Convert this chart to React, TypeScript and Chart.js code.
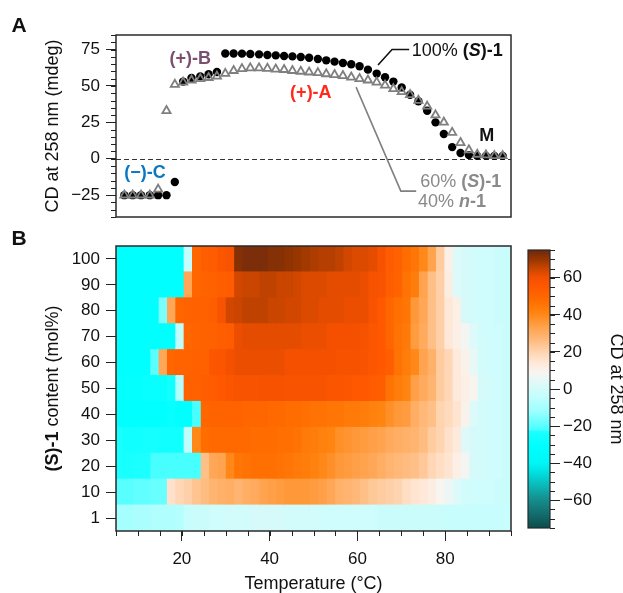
import React, { useEffect, useRef } from "react";
import { Chart, registerables } from "chart.js";

Chart.register(...registerables);

const FONT = "'Liberation Sans', Arial, Helvetica, sans-serif";
Chart.defaults.font.family = FONT;
Chart.defaults.color = "#111";

// ---------- DATA ----------
// heat-map column edges (°C)
const temperatureEdges = [
  5.0, 6.9, 8.8, 10.7, 12.7, 14.6, 16.5, 18.4, 20.3, 22.2, 24.2, 26.1, 28.0, 29.9, 31.8, 33.7,
  35.6, 37.6, 39.5, 41.4, 43.3, 45.2, 47.1, 49.0, 51.0, 52.9, 54.8, 56.7, 58.6, 60.5, 62.4, 64.4,
  66.3, 68.2, 70.1, 72.0, 73.9, 75.9, 77.8, 79.7, 81.6, 83.5, 85.4, 87.3, 89.3, 91.2, 93.1, 95.0,
];

// measured temperatures (°C) of panel A
const scatterTemperatures = [
  6.9, 8.8, 10.7, 12.7, 14.6, 16.5, 18.4, 20.3, 22.2, 24.2, 26.1, 28.0, 29.9, 31.8, 33.7, 35.6,
  37.6, 39.5, 41.4, 43.3, 45.2, 47.1, 49.0, 51.0, 52.9, 54.8, 56.7, 58.6, 60.5, 62.4, 64.4, 66.3,
  68.2, 70.1, 72.0, 73.9, 75.9, 77.8, 79.7, 81.6, 83.5, 85.4, 87.3, 89.3, 91.2, 93.1,
];

// 100% (S)-1, CD at 258 nm (mdeg)
const cdPureS = [
  -25, -25, -25, -25, -25, -25, -16, 53, 55.5, 56.6, 58, 59.6, 72.3, 72.3, 72.2, 72,
  71.7, 71.3, 71, 70.6, 70.3, 69.9, 69.4, 68.5, 67.6, 66.7, 65.8, 64.9, 63.5, 61.2, 58.5, 56,
  53, 49, 44, 39.5, 33, 25, 17, 8, 4, 2.5, 2, 2, 2, 2,
];

// 60% (S)-1 / 40% n-1
const cdMixed = [
  -25, -25, -25, -25, -21, 33, 51, 52.5, 54, 55, 55.7, 56.6, 58.5, 60.5, 61.8, 62.3,
  62.3, 62, 61.5, 61.2, 60.5, 60, 59.5, 59, 58.3, 57.7, 57, 56, 55, 54, 52.5, 50.5,
  48, 46, 44, 40, 36, 30, 25, 18, 11, 6, 3, 2.5, 2, 2,
];

// panel A y-axis tick values
const cdTicksA = [-25, 0, 25, 50, 75];

// panel B rows, (S)-1 content (mol%)
const contentLabels = ["100", "90", "80", "70", "60", "50", "40", "30", "20", "10", "1"];

const heat100 = [
  -30, -30, -30, -30, -30, -30, -30, -30, -4, 50, 53, 54, 57, 58,
  72, 73, 73, 73, 72, 72, 71, 70, 69, 68, 67, 67, 66, 64, 63, 63, 62, 59,
  54, 52, 48, 45, 40, 33, 22, 11, 2, 1, 0, -1, -1, -2, -2,
];
const heat90 = [
  -30, -30, -30, -30, -30, -30, -30, -30, 32, 50, 51, 52, 53, 54,
  64, 65, 65, 66, 66, 65, 65, 64, 63, 63, 63, 62, 62, 62, 62, 61, 59, 58,
  53, 51, 46, 43, 33, 25, 21, 12, 2, 1, 0, -1, -1, -2, -2,
];
const heat80 = [
  -30, -30, -30, -30, -30, -16, 32, 50, 51, 52, 52, 53, 58,
  64, 65, 66, 66, 66, 65, 65, 64, 64, 63, 63, 62, 62, 62, 61, 61, 61, 58, 55,
  50, 47, 45, 36, 32, 25, 21, 14, 11, 1, 0, -1, -1, -2, -2,
];
const heat70 = [
  -30, -30, -30, -30, -30, -30, -30, -5, 50, 51, 52, 52, 53, 54,
  61, 62, 62, 62, 62, 62, 62, 62, 61, 61, 61, 60, 60, 60, 60, 59, 56, 55,
  50, 46, 44, 35, 31, 25, 21, 14, 11, 8, 2, 0, -1, -1, -2,
];
const heat60 = [
  -30, -30, -30, -30, -20, 32, 50, 51, 51, 52, 52, 56, 57,
  60, 61, 61, 61, 61, 61, 61, 60, 60, 60, 60, 60, 60, 59, 59, 59, 58, 56, 55,
  53, 46, 43, 40, 33, 29, 22, 19, 13, 10, 5, 0, -1, -1, -2,
];
const heat50 = [
  -29, -29, -29, -28, -28, -28, -26, -8, 52, 52, 53, 54, 55, 57,
  58, 58, 58, 59, 59, 59, 58, 58, 58, 58, 58, 57, 57, 56, 55, 55, 54, 53,
  46, 43, 41, 34, 31, 28, 22, 19, 13, 11, 9, 1, 0, -1, -2,
];
const heat40 = [
  -30, -30, -30, -30, -30, -30, -28, -30, -30, -22, 50, 51, 51, 51,
  51, 50, 50, 50, 49, 49, 48, 48, 47, 46, 46, 45, 45, 44, 44, 43, 42, 41,
  38, 36, 35, 30, 27, 25, 20, 18, 15, 10, 2, 0, -1, -1, -2,
];
const heat30 = [
  -24, -26, -26, -25, -25, -26, -26, -26, -5, 40, 48, 49, 49, 49,
  49, 49, 48, 48, 48, 47, 47, 46, 44, 43, 42, 41, 38, 37, 36, 35, 34, 33,
  31, 30, 29, 28, 26, 22, 20, 16, 13, 3, 1, 0, -1, -1, -2,
];
const heat20 = [
  -24, -24, -23, -23, -22, -22, -22, -22, -22, -22, 25, 32, 33, 40,
  45, 46, 47, 47, 47, 46, 45, 44, 43, 42, 40, 38, 36, 35, 34, 33, 32, 30,
  28, 27, 26, 25, 23, 19, 17, 15, 11, 8, 1, 0, -1, -1, -2,
];
const heat10 = [
  -20, -20, -19, -19, -18, -18, 16, 19, 21, 24, 26, 28, 29, 30,
  28, 30, 31, 33, 34, 35, 36, 36, 36, 35, 34, 32, 29, 28, 27, 25, 23, 22,
  21, 20, 17, 15, 14, 12, 9, 6, 2, 0, -1, -1, -1, -2, -2,
];
const heat1 = [
  -10, -10, -9, -9, -8, -8, -8, -7, -3, -2, -2, -1, -1, 0,
  0, 0, 1, 1, 1, 1, 0, 0, 0, 0, -1, -1, -1, -1, -1, -1, -1, -2,
  -2, -2, -2, -2, -2, -2, -2, -3, -3, -3, -3, -3, -3, -3, -3,
];
const heatRows = [heat100, heat90, heat80, heat70, heat60, heat50, heat40, heat30, heat20, heat10, heat1];

// colour scale of the CD values
const colorbarMin = -75;
const colorbarMax = 75;
const cmapValues = [-75, -68, -60, -52, -45, -40, -30, -23, -22, -12, -4, 0, 5, 9, 14, 20, 27, 34, 41, 48, 55, 60, 63, 66, 70, 75];
const cmapColors = [
  "#0c4c4c", "#136a6a", "#158c8c", "#0cb8b8", "#00e0e0", "#00f6f6", "#00ffff", "#1cffff", "#48ffff",
  "#9cffff", "#c4fdfd", "#d2fbfb", "#e8f8f6", "#f8f4f0", "#ffe8d8", "#ffd4b0", "#ffb878", "#ffa048",
  "#ff8410", "#ff6c00", "#ff5800", "#f45000", "#dc4a00", "#bf4200", "#983600", "#6a2810",
];

// ---------- helpers ----------
function hexRgb(h: string): number[] {
  return [parseInt(h.slice(1, 3), 16), parseInt(h.slice(3, 5), 16), parseInt(h.slice(5, 7), 16)];
}
function cdColor(v: number): string {
  if (v <= cmapValues[0]) return cmapColors[0];
  for (let i = 1; i < cmapValues.length; i++) {
    if (v <= cmapValues[i]) {
      const f = (v - cmapValues[i - 1]) / (cmapValues[i] - cmapValues[i - 1]);
      const a = hexRgb(cmapColors[i - 1]);
      const b = hexRgb(cmapColors[i]);
      const c = a.map((x, k) => Math.round(x + (b[k] - x) * f));
      return `rgb(${c[0]},${c[1]},${c[2]})`;
    }
  }
  return cmapColors[cmapColors.length - 1];
}
const minus = (v: any) => String(v).replace("-", "\u2212");

type Seg = { t: string; b?: boolean; i?: boolean };
function drawSegs(ctx: CanvasRenderingContext2D, segs: Seg[], x: number, y: number, size: number, color: string, align: "left" | "center") {
  const fontOf = (s: Seg) => `${s.i ? "italic " : ""}${s.b ? "bold " : ""}${size}px ${FONT}`;
  let total = 0;
  const ws = segs.map((s) => {
    ctx.font = fontOf(s);
    const w = ctx.measureText(s.t).width;
    total += w;
    return w;
  });
  let cx = align === "center" ? x - total / 2 : x;
  ctx.fillStyle = color;
  ctx.textBaseline = "middle";
  ctx.textAlign = "left";
  segs.forEach((s, k) => {
    ctx.font = fontOf(s);
    ctx.fillText(s.t, cx, y);
    cx += ws[k];
  });
}

const framePlugin = (lw: number) => ({
  id: "frame",
  afterDraw(chart: any) {
    const { ctx, chartArea: a } = chart;
    ctx.save();
    ctx.strokeStyle = "#2a2a2a";
    ctx.lineWidth = lw;
    ctx.strokeRect(a.left, a.top, a.right - a.left, a.bottom - a.top);
    ctx.restore();
  },
});

const minorTicks = (axis: string, from: number, to: number, step: number, len: number, side: "left" | "right" | "bottom") => ({
  id: "minor" + axis + side,
  afterDraw(chart: any) {
    const s = chart.scales[axis];
    const { ctx, chartArea: a } = chart;
    ctx.save();
    ctx.strokeStyle = "#222";
    ctx.lineWidth = 1;
    ctx.beginPath();
    for (let v = from; v <= to + 1e-9; v += step) {
      const p = Math.round(s.getPixelForValue(v)) + 0.5;
      if (side === "left") {
        ctx.moveTo(a.left, p);
        ctx.lineTo(a.left - len, p);
      } else if (side === "right") {
        ctx.moveTo(a.right, p);
        ctx.lineTo(a.right + len, p);
      } else {
        ctx.moveTo(p, a.bottom);
        ctx.lineTo(p, a.bottom + len);
      }
    }
    ctx.stroke();
    ctx.restore();
  },
});

// panel A annotations (data coordinates)
const labelsA: { x: number; y: number; align: "left" | "center"; color: string; segs: Seg[] }[] = [
  { x: 21.9, y: 68.5, align: "center", color: "#7b4f72", segs: [{ t: "(+)-B", b: true }] },
  { x: 49.4, y: 45, align: "center", color: "#ff2a1a", segs: [{ t: "(+)-A", b: true }] },
  { x: 11.6, y: -9.8, align: "center", color: "#0a78c0", segs: [{ t: "(\u2212)-C", b: true }] },
  { x: 89.5, y: 15.6, align: "center", color: "#111", segs: [{ t: "M", b: true }] },
  { x: 72.4, y: 74.3, align: "left", color: "#111", segs: [{ t: "100% " }, { t: "(", b: true }, { t: "S", b: true, i: true }, { t: ")-1", b: true }] },
  { x: 74.3, y: -16, align: "left", color: "#8a8a8a", segs: [{ t: "60% " }, { t: "(", b: true }, { t: "S", b: true, i: true }, { t: ")-1", b: true }] },
  { x: 73.8, y: -29.4, align: "left", color: "#8a8a8a", segs: [{ t: "40% " }, { t: "n", b: true, i: true }, { t: "-1", b: true }] },
];
const leaderBlack = [[64.7, 64.4], [67.9, 75.0], [71.8, 75.0]];
const leaderGray = [[59.7, 49.2], [69.9, -22.2], [73.4, -22.2]];

const annotA = {
  id: "annotA",
  beforeDatasetsDraw(chart: any) {
    const { ctx, chartArea: a, scales } = chart;
    const y0 = Math.round(scales.y.getPixelForValue(0)) + 0.5;
    ctx.save();
    ctx.strokeStyle = "#333";
    ctx.lineWidth = 1.2;
    ctx.setLineDash([5, 3]);
    ctx.beginPath();
    ctx.moveTo(a.left, y0);
    ctx.lineTo(a.right, y0);
    ctx.stroke();
    ctx.restore();
  },
  afterDatasetsDraw(chart: any) {
    const { ctx, scales } = chart;
    const X = (v: number) => scales.x.getPixelForValue(v);
    const Y = (v: number) => scales.y.getPixelForValue(v);
    ctx.save();
    const line = (pts: number[][], color: string) => {
      ctx.strokeStyle = color;
      ctx.lineWidth = 1.6;
      ctx.beginPath();
      pts.forEach((p, i) => (i ? ctx.lineTo(X(p[0]), Y(p[1])) : ctx.moveTo(X(p[0]), Y(p[1]))));
      ctx.stroke();
    };
    line(leaderBlack, "#111");
    line(leaderGray, "#808080");
    labelsA.forEach((l) => drawSegs(ctx, l.segs, X(l.x), Y(l.y), 18, l.color, l.align));
    ctx.font = `bold 21px ${FONT}`;
    ctx.fillStyle = "#111";
    ctx.textAlign = "center";
    ctx.textBaseline = "middle";
    ctx.fillText("A", 19, 26);
    ctx.restore();
  },
};

const annotB = {
  id: "annotB",
  afterDraw(chart: any) {
    const { ctx, chartArea: a } = chart;
    ctx.save();
    ctx.font = `bold 21px ${FONT}`;
    ctx.fillStyle = "#111";
    ctx.textAlign = "center";
    ctx.textBaseline = "middle";
    ctx.fillText("B", 19, 15);
    ctx.translate(53, (a.top + a.bottom) / 2);
    ctx.rotate(-Math.PI / 2);
    const segs: Seg[] = [{ t: "(S)-1", b: true }, { t: " content (mol%)" }];
    drawSegs(ctx, segs, 0, 0, 18, "#111", "center");
    ctx.restore();
  },
};

const cbTitle = {
  id: "cbTitle",
  afterDraw(chart: any) {
    const { ctx, chartArea: a } = chart;
    ctx.save();
    ctx.translate(103.5, (a.top + a.bottom) / 2);
    ctx.rotate(Math.PI / 2);
    ctx.font = `18px ${FONT}`;
    ctx.fillStyle = "#111";
    ctx.textAlign = "center";
    ctx.textBaseline = "middle";
    ctx.fillText("CD at 258 nm", 0, 0);
    ctx.restore();
  },
};

export default function App() {
  const refA = useRef<HTMLCanvasElement>(null);
  const refB = useRef<HTMLCanvasElement>(null);
  const refC = useRef<HTMLCanvasElement>(null);

  useEffect(() => {
    const tickFont = { size: 17 };
    const chartA = new Chart(refA.current as HTMLCanvasElement, {
      type: "scatter",
      data: {
        datasets: [
          {
            label: "60% (S)-1 40% n-1",
            data: scatterTemperatures.map((x, i) => ({ x, y: cdMixed[i] })),
            pointStyle: "triangle",
            pointRadius: 4.7,
            pointBorderWidth: 1.8,
            pointBorderColor: "#7f7f7f",
            pointBackgroundColor: "rgba(0,0,0,0)",
          },
          {
            label: "100% (S)-1",
            data: scatterTemperatures.map((x, i) => ({ x, y: cdPureS[i] })),
            pointStyle: "circle",
            pointRadius: 4.2,
            pointBorderWidth: 0,
            pointBackgroundColor: "#000",
            pointBorderColor: "#000",
          },
        ] as any,
      },
      options: {
        responsive: false,
        animation: false,
        layout: { padding: { left: 0, top: 35, right: 112, bottom: 33 } },
        plugins: { legend: { display: false }, tooltip: { enabled: false } },
        scales: {
          x: { type: "linear", min: 5, max: 95, display: false },
          y: {
            type: "linear",
            min: -40,
            max: 85,
            afterBuildTicks: (s: any) => {
              s.ticks = cdTicksA.map((v) => ({ value: v }));
            },
            ticks: { font: tickFont, padding: 6, callback: minus },
            grid: { drawOnChartArea: false, tickLength: 10, color: "#222" },
            border: { display: false },
            title: { display: true, text: "CD at 258 nm (mdeg)", font: { size: 18 }, padding: { top: 42, bottom: 0 } },
            afterFit: (s: any) => {
              s.width = 116;
            },
          },
        },
      } as any,
      plugins: [annotA, framePlugin(1.5), minorTicks("y", -40, 85, 5, 5, "left")],
    });

    const heatDatasets = temperatureEdges.slice(0, -1).map((t0, j) => ({
      label: "T" + j,
      data: heatRows.map(() => [t0, temperatureEdges[j + 1]]),
      backgroundColor: heatRows.map((row) => cdColor(row[j])),
      borderWidth: 0,
      grouped: false,
      barPercentage: 1,
      categoryPercentage: 1,
      inflateAmount: 0.5,
    }));

    const chartB = new Chart(refB.current as HTMLCanvasElement, {
      type: "bar",
      data: { labels: contentLabels, datasets: heatDatasets as any },
      options: {
        indexAxis: "y",
        responsive: false,
        animation: false,
        layout: { padding: { left: 0, top: 22, right: 112, bottom: 0 } },
        plugins: { legend: { display: false }, tooltip: { enabled: false } },
        scales: {
          x: {
            type: "linear",
            min: 5,
            max: 95,
            position: "bottom",
            ticks: { stepSize: 20, includeBounds: false, font: tickFont, padding: 8, maxRotation: 0 },
            grid: { drawOnChartArea: false, tickLength: 10, color: "#222" },
            border: { display: false },
            title: { display: true, text: "Temperature (°C)", font: { size: 18 }, padding: { top: 0, bottom: -2 } },
            afterFit: (s: any) => {
              s.height = 62;
            },
          },
          y: {
            type: "category",
            offset: true,
            ticks: { font: tickFont, padding: 6 },
            grid: { offset: false, drawOnChartArea: false, tickLength: 10, color: "#222" },
            border: { display: false },
            afterFit: (s: any) => {
              s.width = 116;
            },
          },
        },
      } as any,
      plugins: [framePlugin(1.5), minorTicks("x", 5, 95, 5, 5, "bottom"), annotB],
    });

    const chartC = new Chart(refC.current as HTMLCanvasElement, {
      type: "bar",
      data: {
        labels: ["CD"],
        datasets: [
          {
            label: "CD scale",
            data: [[colorbarMin, colorbarMax]],
            backgroundColor: (c: any) => {
              const { chart } = c;
              if (!chart.chartArea) return "transparent";
              const ys = chart.scales.y;
              const g = chart.ctx.createLinearGradient(0, ys.getPixelForValue(colorbarMin), 0, ys.getPixelForValue(colorbarMax));
              cmapValues.forEach((v, i) => g.addColorStop((v - colorbarMin) / (colorbarMax - colorbarMin), cmapColors[i]));
              return g;
            },
            borderWidth: 0,
            barPercentage: 1,
            categoryPercentage: 1,
          },
        ] as any,
      },
      options: {
        responsive: false,
        animation: false,
        layout: { padding: { left: 16, top: 26, right: 0, bottom: 65 } },
        plugins: { legend: { display: false }, tooltip: { enabled: false } },
        scales: {
          x: { display: false, offset: true },
          y: {
            position: "right",
            min: colorbarMin,
            max: colorbarMax,
            ticks: { stepSize: 20, includeBounds: false, font: tickFont, padding: 3, callback: minus },
            grid: { drawOnChartArea: false, tickLength: 10, color: "#222" },
            border: { display: false },
            afterFit: (s: any) => {
              s.width = 73;
            },
          },
        },
      } as any,
      plugins: [framePlugin(1.2), minorTicks("y", colorbarMin, colorbarMax, 5, 5, "right"), cbTitle],
    });

    return () => {
      chartA.destroy();
      chartB.destroy();
      chartC.destroy();
    };
  }, []);

  return (
    <div style={{ position: "absolute", left: 0, top: 0, width: 623, height: 593, background: "#fff", overflow: "hidden" }}>
      <canvas ref={refA} width={623} height={250} style={{ position: "absolute", left: 0, top: 0, width: 623, height: 250 }} />
      <canvas ref={refB} width={623} height={369} style={{ position: "absolute", left: 0, top: 224, width: 623, height: 369 }} />
      <canvas ref={refC} width={111} height={369} style={{ position: "absolute", left: 512, top: 224, width: 111, height: 369 }} />
    </div>
  );
}
